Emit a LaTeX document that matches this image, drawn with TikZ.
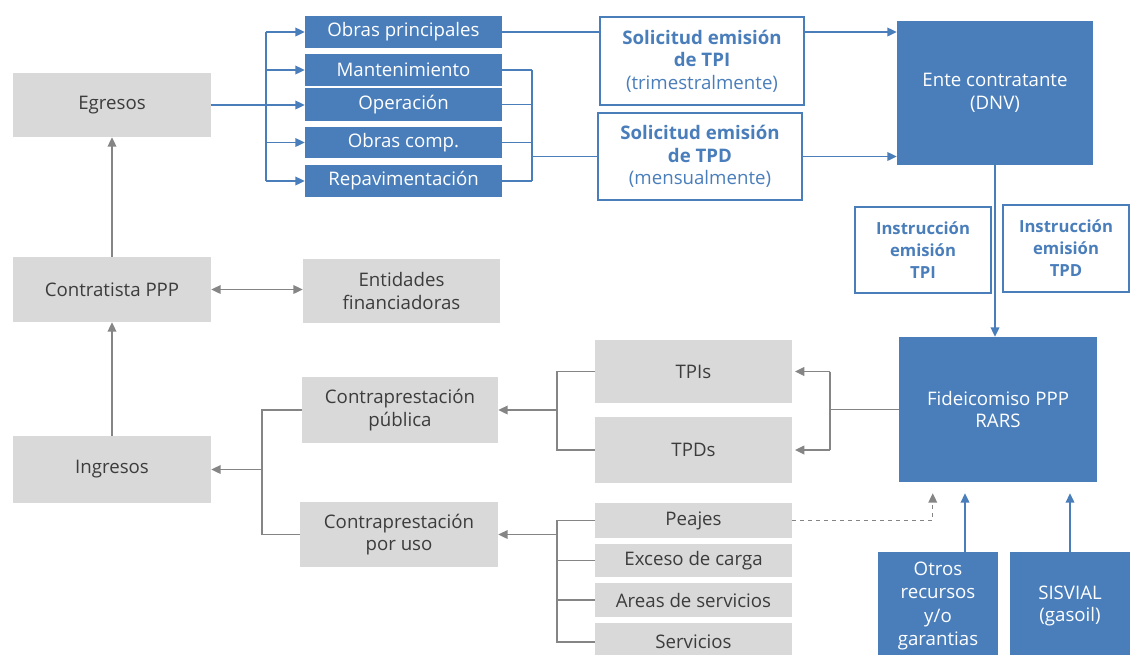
\documentclass[tikz,border=0pt]{standalone}
\usepackage{fontspec}
\setmainfont{Open Sans}
\usetikzlibrary{calc, arrows.meta}
\definecolor{azul}{HTML}{4A7EBB}
\definecolor{gris}{HTML}{D9D9D9}
\definecolor{grisln}{HTML}{858585}
\definecolor{gristxt}{HTML}{3C3C3C}

\begin{document}
\begin{tikzpicture}[x=0.75pt, y=-0.75pt, >={Triangle[length=7pt,width=6.5pt]},
    font=\fontsize{14}{17}\selectfont,
    gbox/.style={fill=gris, text=gristxt, align=center, inner sep=0pt},
    bbox/.style={fill=azul, text=white, align=center, inner sep=0pt},
    obox/.style={draw=azul, line width=1pt, fill=white, text=azul, align=center, inner sep=0pt},
    gln/.style={draw=grisln, line width=1pt},
    bln/.style={draw=azul, line width=1pt}]
    \useasboundingbox (0,0) rectangle (1130,654);
    \clip (0,0) rectangle (1130,654);
    % left column
    \node[gbox, minimum width=148.5pt, minimum height=48pt] (egr) at (112,105) {Egresos};
    \node[gbox, minimum width=148.5pt, minimum height=48.75pt] (contr) at (112,289.5) {Contratista PPP};
    \node[gbox, minimum width=148.5pt, minimum height=50.25pt] (ingr) at (112,469.5) {Ingresos};
    \node[gbox, minimum width=147.75pt, minimum height=48pt] (entid) at (401.5,291) {Entidades\\financiadoras};
    \node[gbox, minimum width=147pt, minimum height=49.5pt] (cpub) at (400,410) {Contraprestación\\pública};
    \node[gbox, minimum width=148.5pt, minimum height=48.75pt] (cuso) at (399,534.5) {Contraprestación\\por uso};
    % egresos
    \node[bbox, minimum width=147.75pt, minimum height=24pt] (obp) at (403.5,32) {Obras principales};
    \node[bbox, minimum width=147.75pt, minimum height=24pt] (man) at (403.5,70) {Mantenimiento};
    \node[bbox, minimum width=147.75pt, minimum height=24.75pt] (ope) at (403.5,104.5) {Operación};
    \node[bbox, minimum width=147.75pt, minimum height=23.25pt] (obc) at (403.5,142.5) {Obras comp.};
    \node[bbox, minimum width=147.75pt, minimum height=24pt] (rep) at (403.5,181) {Repavimentación};
    \node[obox, minimum width=153pt, minimum height=66pt] (soltpi) at (702,61) {\textbf{Solicitud emisión}\\\textbf{de TPI}\\(trimestralmente)};
    \node[obox, minimum width=153pt, minimum height=65.25pt] (soltpd) at (700,156.5) {\textbf{Solicitud emisión}\\\textbf{de TPD}\\(mensualmente)};
    \node[bbox, minimum width=147pt, minimum height=108pt] (ente) at (995,93) {Ente contratante\\(DNV)};
    \node[obox, minimum width=102pt, minimum height=64.5pt, font=\fontsize{12.5}{16.5}\selectfont\bfseries] (instpi) at (923,250) {Instrucción\\emisión\\TPI};
    \node[obox, minimum width=94.5pt, minimum height=65.25pt, font=\fontsize{12.5}{16.5}\selectfont\bfseries] (instpd) at (1066,248.5) {Instrucción\\emisión\\TPD};
    % ingresos
    \node[gbox, minimum width=147.75pt, minimum height=47.25pt] (tpis) at (693.5,371.5) {TPIs};
    \node[gbox, minimum width=147.75pt, minimum height=49.5pt] (tpds) at (693.5,450) {TPDs};
    \node[gbox, minimum width=147.75pt, minimum height=26.25pt] (peaj) at (693.5,520.5) {Peajes};
    \node[gbox, minimum width=147.75pt, minimum height=24.75pt] (exce) at (693.5,560.5) {Exceso de carga};
    \node[gbox, minimum width=147.75pt, minimum height=25.5pt] (area) at (693.5,600) {Areas de servicios};
    \node[gbox, minimum width=147.75pt, minimum height=28.5pt] (serv) at (693.5,642) {Servicios};
    \node[bbox, minimum width=148.5pt, minimum height=108.75pt] (fide) at (998,409.5) {Fideicomiso PPP\\RARS};
    \node[bbox, minimum width=90pt, minimum height=81pt, font=\fontsize{14}{17.5}\selectfont] (otros) at (938,606) {Otros\\recursos\\y/o\\garantias};
    \node[bbox, minimum width=90pt, minimum height=81pt] (sisv) at (1070,606) {SISVIAL\\(gasoil)};
    \coordinate (busL) at (266,0);
    \coordinate (busR) at (532,0);
    \coordinate (busI) at (262,0);
    \coordinate (busT) at (557,0);
    \coordinate (busF) at (830,0);

    % blue flows
    \draw[bln] (obp.west -| busL) -- (rep.west -| busL);
    \foreach \n in {obp,man,obc,rep}
        \draw[bln,->] (\n.west -| busL) -- (\n.west);
    \draw[bln,->] (egr.east) -- (egr.east -| ope.west);
    \foreach \n in {man,ope,obc,rep}
        \draw[bln] (\n.east) -- (\n.east -| busR);
    \draw[bln] (man.east -| busR) -- (rep.east -| busR);
    \draw[bln] (busR |- soltpd.west) -- (soltpd.west);
    \draw[bln] (obp.east) -- (obp.east -| soltpi.west);
    \draw[bln,->] (obp.east -| soltpi.east) -- (obp.east -| ente.west);
    \draw[bln,->] (soltpd.east) -- (soltpd.east -| ente.west);
    \draw[bln,->] (ente.south) -- (ente.south |- fide.north);
    \draw[bln,->] ($(otros.north)+(27,0)$) -- ($(fide.south)+(-33,11)$);
    \draw[bln,->] (sisv.north) -- ($(sisv.north |- fide.south)+(0,11)$);

    % gray flows
    \draw[gln,<->] (contr.east) -- (contr.east -| entid.west);
    \draw[gln,->] (ingr.north) -- (contr.south);
    \draw[gln,->] (contr.north) -- (egr.south);
    \draw[gln] (cpub.west) -| (busI |- cuso.west) -- (cuso.west);
    \draw[gln,->] (busI |- ingr.east) -- (ingr.east);
    \draw[gln] (tpis.west) -| (busT |- tpds.west) -- (tpds.west);
    \draw[gln,->] (busT |- cpub.east) -- (cpub.east);
    \draw[gln] (peaj.west) -| (busT |- serv.west) -- (serv.west);
    \foreach \n in {exce,area}
        \draw[gln] (busT |- \n.west) -- (\n.west);
    \draw[gln,->] (busT |- cuso.east) -- (cuso.east);
    \draw[gln] (fide.west) -- (fide.west -| busF);
    \draw[gln] (busF |- tpis.east) -- (busF |- tpds.east);
    \draw[gln,->,shorten >=2pt] (busF |- tpis.east) -- (tpis.east);
    \draw[gln,->,shorten >=2pt] (busF |- tpds.east) -- (tpds.east);
    \draw[gln,->,dashed] (peaj.east) -| ($(fide.south west)+(34,11)$);
\end{tikzpicture}
\end{document}
